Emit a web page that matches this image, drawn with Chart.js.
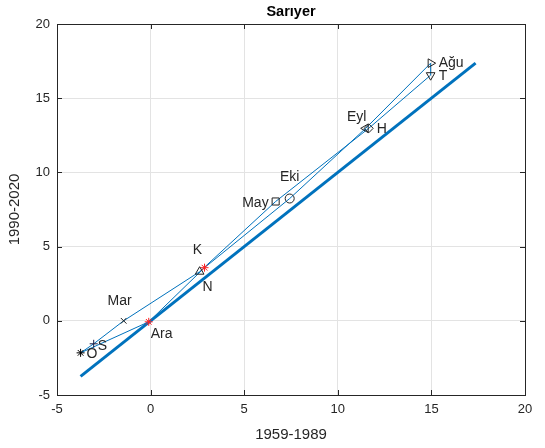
<!DOCTYPE html>
<html>
<head>
<meta charset="utf-8">
<script src="https://cdn.jsdelivr.net/npm/chart.js@4"></script>
<style>
  html, body { margin: 0; padding: 0; background: #fff; }
  #wrap { width: 545px; height: 448px; }
</style>
</head>
<body>
<div id="wrap"><canvas id="c" width="545" height="448"></canvas></div>
<script>
// Monthly values, Sarıyer: 1959-1989 period vs 1990-2020 period
const months   = ['O', 'S', 'Mar', 'N', 'May', 'H', 'T', 'Ağu', 'Eyl', 'Eki', 'K', 'Ara'];
const period1  = [-3.74, -3.04, -1.44, 2.62, 6.68, 11.65, 14.96, 14.96, 11.49, 7.43, 2.88, -0.10];
const period2  = [-2.16, -1.55, 0.00, 3.31, 8.04, 12.97, 16.55, 17.36, 12.97, 8.24, 3.58, -0.07];
const axisTicks = [-5, 0, 5, 10, 15, 20];

// Marker appearance per month
const markerStyle = [
  { style: 'star',     rot: 0,   color: '#000000', r: 4 },
  { style: 'cross',    rot: 0,   color: '#1a1a40', r: 4 },
  { style: 'crossRot', rot: 0,   color: '#222222', r: 4 },
  { style: 'triangle', rot: 0,   color: '#222222', r: 5 },
  { style: 'rect',     rot: 0,   color: '#222222', r: 5 },
  { style: 'rectRot',  rot: 0,   color: '#222222', r: 4.5 },
  { style: 'triangle', rot: 180, color: '#222222', r: 5 },
  { style: 'triangle', rot: 90,  color: '#222222', r: 5 },
  { style: 'triangle', rot: -90, color: '#222222', r: 5 },
  { style: 'circle',   rot: 0,   color: '#222222', r: 4.5 },
  { style: 'star',     rot: 0,   color: '#ff2020', r: 4 },
  { style: 'star',     rot: 0,   color: '#ff2020', r: 4 }
];
// Label placement relative to each marker: dx, dy, alignment
const labelPlace = [
  [6, 1, 'left'], [4, 2, 'left'], [-4, -20, 'center'], [8, 15, 'center'],
  [-7, 2, 'right'], [8, 1, 'left'], [8, 1, 'left'], [8, 0, 'left'],
  [-9, -11, 'center'], [0, -21, 'center'], [-7, -18, 'center'], [2, 12, 'left']
];

const loopPts = months.map((m, i) => ({ x: period1[i], y: period2[i] }));
loopPts.push({ x: period1[0], y: period2[0] });

const lo = Math.min(...period1, ...period2);
const hi = Math.max(...period1, ...period2);

const markerSets = months.map((m, i) => ({
  label: m,
  data: [{ x: period1[i], y: period2[i] }],
  showLine: false,
  pointStyle: markerStyle[i].style,
  rotation: markerStyle[i].rot,
  pointRadius: markerStyle[i].r,
  pointBorderColor: markerStyle[i].color,
  pointBackgroundColor: 'rgba(0,0,0,0)',
  pointBorderWidth: 1,
  order: 0
}));

const FONT = '"Liberation Sans", Arial, Helvetica, sans-serif';
const TXT = '#262626';

const decorations = {
  id: 'decorations',
  beforeDraw(chart) {
    const ctx = chart.ctx;
    ctx.save();
    ctx.fillStyle = '#fff';
    ctx.fillRect(0, 0, chart.width, chart.height);
    ctx.restore();
  },
  afterDatasetsDraw(chart) {
    const ctx = chart.ctx;
    const xs = chart.scales.x, ys = chart.scales.y;
    const a = chart.chartArea;
    ctx.save();
    // month labels
    ctx.font = '14px ' + FONT;
    ctx.fillStyle = TXT;
    ctx.textBaseline = 'middle';
    months.forEach((m, i) => {
      const px = xs.getPixelForValue(period1[i]);
      const py = ys.getPixelForValue(period2[i]);
      const p = labelPlace[i];
      ctx.textAlign = p[2];
      ctx.fillText(m, px + p[0], py + p[1]);
    });
    // axes box and inward ticks
    ctx.strokeStyle = '#262626';
    ctx.lineWidth = 1;
    ctx.strokeRect(Math.round(a.left) + 0.5, Math.round(a.top) + 0.5,
                   Math.round(a.right - a.left), Math.round(a.bottom - a.top));
    ctx.beginPath();
    axisTicks.forEach(t => {
      const px = Math.round(xs.getPixelForValue(t)) + 0.5;
      ctx.moveTo(px, a.bottom); ctx.lineTo(px, a.bottom - 5);
      ctx.moveTo(px, a.top); ctx.lineTo(px, a.top + 5);
      const py = Math.round(ys.getPixelForValue(t)) + 0.5;
      ctx.moveTo(a.left, py); ctx.lineTo(a.left + 5, py);
      ctx.moveTo(a.right, py); ctx.lineTo(a.right - 5, py);
    });
    ctx.stroke();
    // title
    ctx.font = 'bold 14.5px ' + FONT;
    ctx.fillStyle = '#000';
    ctx.textAlign = 'center';
    ctx.textBaseline = 'middle';
    ctx.fillText('Sarıyer', (a.left + a.right) / 2, 12);
    ctx.restore();
  }
};

new Chart(document.getElementById('c'), {
  type: 'scatter',
  data: {
    datasets: [
      {
        label: 'loop',
        data: loopPts,
        showLine: true,
        borderColor: '#0072BD',
        borderWidth: 1,
        pointRadius: 0,
        order: 2
      },
      {
        label: '1:1',
        data: [{ x: lo, y: lo }, { x: hi, y: hi }],
        showLine: true,
        borderColor: '#0072BD',
        borderWidth: 3,
        pointRadius: 0,
        order: 1
      },
      ...markerSets
    ]
  },
  options: {
    responsive: false,
    animation: false,
    devicePixelRatio: 1,
    layout: { padding: { top: 24, right: 20, left: 0, bottom: 0 } },
    plugins: { legend: { display: false }, tooltip: { enabled: false }, title: { display: false } },
    scales: {
      x: {
        type: 'linear', min: -5, max: 20,
        afterBuildTicks(s) { s.ticks = axisTicks.map(v => ({ value: v })); },
        afterFit(s) { s.height = 53; },
        grid: { color: '#e3e3e3', drawTicks: false },
        border: { display: false },
        ticks: { color: TXT, font: { family: FONT, size: 13 }, padding: 7, maxRotation: 0 },
        title: { display: true, text: '1959-1989', color: TXT, font: { family: FONT, size: 15 }, padding: { top: 0 } }
      },
      y: {
        type: 'linear', min: -5, max: 20,
        afterBuildTicks(s) { s.ticks = axisTicks.map(v => ({ value: v })); },
        afterFit(s) { s.width = 57; },
        grid: { color: '#e3e3e3', drawTicks: false },
        border: { display: false },
        ticks: { color: TXT, font: { family: FONT, size: 13 }, padding: 7 },
        title: { display: true, text: '1990-2020', color: TXT, font: { family: FONT, size: 15 }, padding: { top: 6, bottom: 2 } }
      }
    }
  },
  plugins: [decorations]
});
</script>
</body>
</html>
